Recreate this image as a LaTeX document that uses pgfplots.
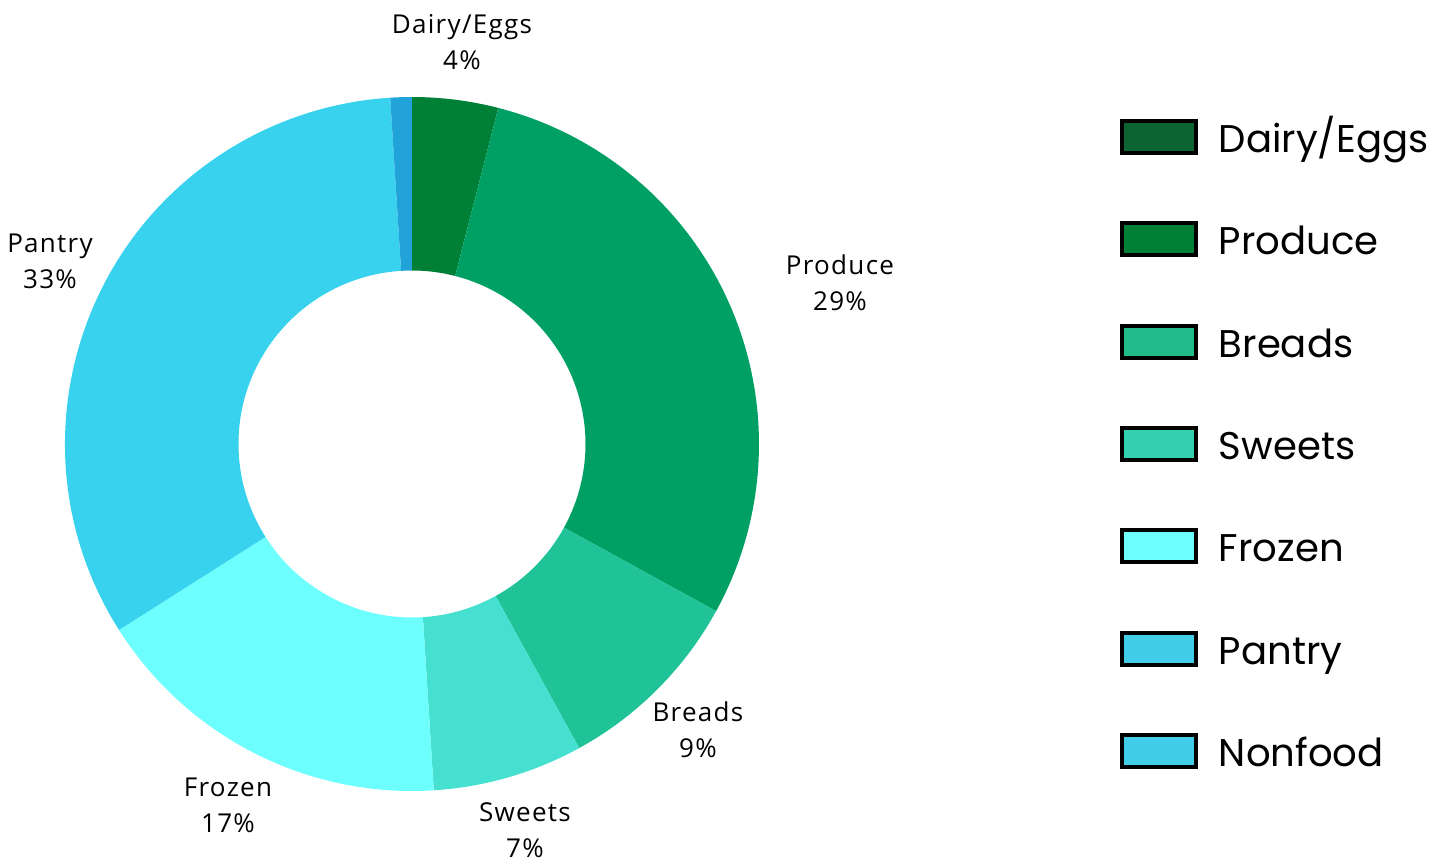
\documentclass[border=0pt]{standalone}
\usepackage{pgfplots}
\pgfplotsset{compat=1.18}
\usepackage{pgfplotstable}
\usepackage{fontspec}
\setmainfont[LetterSpace=5]{Open Sans}
\newfontfamily\legendfont{Poppins}

% slice colours
\definecolor{s0}{HTML}{007F36}
\definecolor{s1}{HTML}{00A064}
\definecolor{s2}{HTML}{20C397}
\definecolor{s3}{HTML}{45E0D0}
\definecolor{s4}{HTML}{6DFFFD}
\definecolor{s5}{HTML}{38D2EE}
\definecolor{s6}{HTML}{21A3DA}
% legend colours
\definecolor{l0}{HTML}{0B6431}
\definecolor{l1}{HTML}{007F36}
\definecolor{l2}{HTML}{20BD8A}
\definecolor{l3}{HTML}{33D0B0}
\definecolor{l4}{HTML}{6DFFFD}
\definecolor{l5}{HTML}{41CCE8}
\definecolor{l6}{HTML}{41CCE8}

% value = share in percent; lx, lb = label centre x and first-line baseline (pixels from top)
\pgfplotstableread[col sep=comma]{
name,value,lx,lb
Dairy/Eggs,4,462,33
Produce,29,840,274
Breads,9,698,721
Sweets,7,525,821
Frozen,17,228,796
Pantry,33,50,252
Nonfood,1,0,0
}\piedata

\begin{document}
\begin{tikzpicture}
\def\cum{0}
\pgfplotsforeachungrouped \i in {0,...,6}{%
  \pgfplotstablegetelem{\i}{value}\of\piedata
  \let\sv\pgfplotsretval
  \pgfmathsetmacro\sa{90-3.6*\cum}%
  \pgfmathsetmacro\cum{\cum+\sv}%
  \pgfmathsetmacro\sb{90-3.6*\cum}%
  \expandafter\xdef\csname sA\i\endcsname{\sa}%
  \expandafter\xdef\csname sB\i\endcsname{\sb}%
  \expandafter\xdef\csname sV\i\endcsname{\sv}%
  \pgfplotstablegetelem{\i}{name}\of\piedata
  \expandafter\xdef\csname sN\i\endcsname{\pgfplotsretval}%
  \pgfplotstablegetelem{\i}{lx}\of\piedata
  \expandafter\xdef\csname sX\i\endcsname{\pgfplotsretval}%
  \pgfplotstablegetelem{\i}{lb}\of\piedata
  \pgfmathsetmacro\yy{863-\pgfplotsretval}%
  \expandafter\xdef\csname sY\i\endcsname{\yy}%
  \pgfmathsetmacro\yy{863-\pgfplotsretval-36}%
  \expandafter\xdef\csname sZ\i\endcsname{\yy}%
}
\begin{axis}[
  x=0.5bp, y=0.5bp,
  xmin=0, xmax=1450, ymin=0, ymax=863,
  hide axis, clip=false,
  legend image code/.code={\draw[#1, line width=2bp, draw=black] (1bp,-4.75bp) rectangle (38bp,11.25bp);},
  legend cell align=left,
  legend style={at={(0.77241,0.86211)}, anchor=north west,
    draw=none, fill=none, inner sep=0pt, outer sep=0pt,
    row sep=29.4bp,
    font=\legendfont\fontsize{19.3bp}{23bp}\selectfont,
    nodes={inner sep=0pt, text height=14bp, text depth=5bp},
    /tikz/every odd column/.append style={column sep=10.5bp}},
]
\pgfplotsinvokeforeach{0,...,6}{%
  \fill[s#1] ([shift={(\csname sA#1\endcsname:173.5bp)}]axis cs:412,419)
    arc[start angle=\csname sA#1\endcsname, end angle=\csname sB#1\endcsname, radius=173.5bp]
    -- ([shift={(\csname sB#1\endcsname:86.75bp)}]axis cs:412,419)
    arc[start angle=\csname sB#1\endcsname, end angle=\csname sA#1\endcsname, radius=86.75bp]
    -- cycle;
}
\pgfplotsinvokeforeach{0,...,5}{%
  \node[anchor=base, inner sep=0pt, font=\fontsize{13bp}{15bp}\selectfont]
    at (axis cs:\csname sX#1\endcsname,\csname sY#1\endcsname) {\csname sN#1\endcsname};
  \node[anchor=base, inner sep=0pt, font=\fontsize{13bp}{15bp}\selectfont]
    at (axis cs:\csname sX#1\endcsname,\csname sZ#1\endcsname) {\csname sV#1\endcsname\%};
}
\addlegendimage{fill=l0}\addlegendentry{Dairy/Eggs}
\addlegendimage{fill=l1}\addlegendentry{Produce}
\addlegendimage{fill=l2}\addlegendentry{Breads}
\addlegendimage{fill=l3}\addlegendentry{Sweets}
\addlegendimage{fill=l4}\addlegendentry{Frozen}
\addlegendimage{fill=l5}\addlegendentry{Pantry}
\addlegendimage{fill=l6}\addlegendentry{Nonfood}
\end{axis}
\pgfresetboundingbox
\useasboundingbox (0,0) rectangle (725bp,431.5bp);
\end{tikzpicture}
\end{document}
